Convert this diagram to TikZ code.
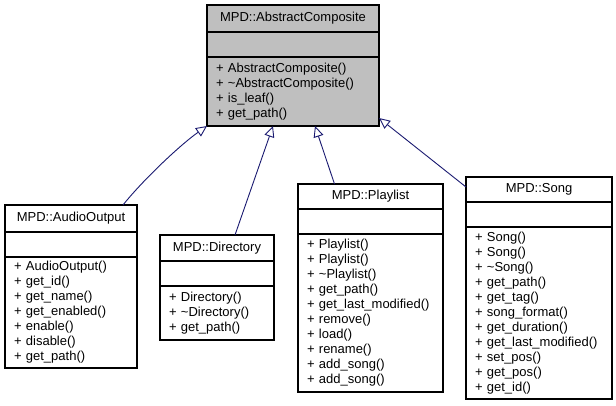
\documentclass[tikz,border=0pt]{standalone}
\usepackage{fontspec}
\setmainfont{Liberation Sans}
\usetikzlibrary{positioning,arrows.meta}
\definecolor{edgeblue}{HTML}{191970}
\definecolor{boxgray}{HTML}{BFBFBF}

\begin{document}
\begin{tikzpicture}[x=1pt,y=-1pt,
  cls/.style={draw=black, line width=1.1pt, outer sep=0pt, inner sep=0pt,
    minimum width=#1, font=\fontsize{13}{15}\selectfont},
  ops/.style={align=left, inner xsep=9pt, inner ysep=0pt},
  inh/.style={draw=edgeblue, line width=0.9pt,
    -{Triangle[open, fill=white, length=11pt, width=10pt]}}]
\useasboundingbox (0,0) rectangle (616,405);

% base class
\node [cls=172pt, fill=boxgray, minimum height=27pt, anchor=north west] (ac-t) at (207,5) {MPD::AbstractComposite};
\node [cls=172pt, fill=boxgray, minimum height=25pt, below=0pt of ac-t] (ac-a) {};
\node [cls=172pt, fill=boxgray, minimum height=69pt, below=0pt of ac-a, ops, text width=154pt] (ac-m)
  {+ AbstractComposite()\\+ \textasciitilde AbstractComposite()\\+ is\_leaf()\\+ get\_path()};

% AudioOutput
\node [cls=132pt, minimum height=27pt, anchor=north west] (ao-t) at (5,205) {MPD::AudioOutput};
\node [cls=132pt, minimum height=25pt, below=0pt of ao-t] (ao-a) {};
\node [cls=132pt, minimum height=111pt, below=0pt of ao-a, ops, text width=114pt] (ao-m)
  {+ AudioOutput()\\+ get\_id()\\+ get\_name()\\+ get\_enabled()\\+ enable()\\+ disable()\\+ get\_path()};

% Directory
\node [cls=114pt, minimum height=26pt, anchor=north west] (dir-t) at (160,235) {MPD::Directory};
\node [cls=114pt, minimum height=25pt, below=0pt of dir-t] (dir-a) {};
\node [cls=114pt, minimum height=54pt, below=0pt of dir-a, ops, text width=96pt] (dir-m)
  {+ Directory()\\+ \textasciitilde Directory()\\+ get\_path()};

% Playlist
\node [cls=145pt, minimum height=25pt, anchor=north west] (pl-t) at (298,184) {MPD::Playlist};
\node [cls=145pt, minimum height=25pt, below=0pt of pl-t] (pl-a) {};
\node [cls=145pt, minimum height=158pt, below=0pt of pl-a, ops, text width=127pt] (pl-m)
  {+ Playlist()\\+ Playlist()\\+ \textasciitilde Playlist()\\+ get\_path()\\+ get\_last\_modified()\\+ remove()\\+ load()\\+ rename()\\+ add\_song()\\+ add\_song()};

% Song
\node [cls=146pt, minimum height=25pt, anchor=north west] (so-t) at (466,177) {MPD::Song};
\node [cls=146pt, minimum height=25pt, below=0pt of so-t] (so-a) {};
\node [cls=146pt, minimum height=172pt, below=0pt of so-a, ops, text width=128pt] (so-m)
  {+ Song()\\+ Song()\\+ \textasciitilde Song()\\+ get\_path()\\+ get\_tag()\\+ song\_format()\\+ get\_duration()\\+ get\_last\_modified()\\+ set\_pos()\\+ get\_pos()\\+ get\_id()};

% inheritance
\draw [inh] ([xshift=-14pt]ao-t.north east) .. controls (143,180) and (180,145) .. (ac-m.south west);
\draw [inh] ([xshift=18pt]dir-t.north) -- ([xshift=-20pt]ac-m.south);
\draw [inh] ([xshift=-36pt]pl-t.north) -- ([xshift=22pt]ac-m.south);
\draw [inh] ([yshift=-10pt]so-t.north west) -- ([yshift=8pt]ac-m.south east);

\end{tikzpicture}
\end{document}
